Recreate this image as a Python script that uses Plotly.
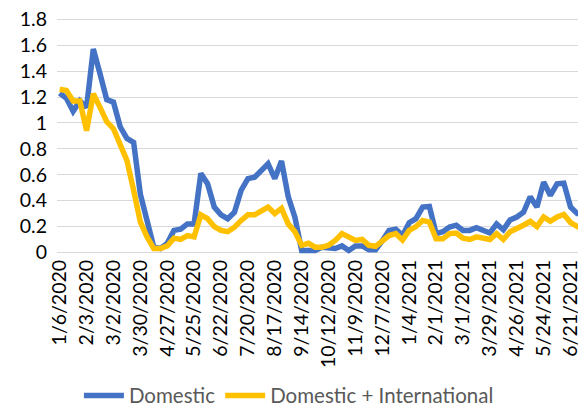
import pandas as pd
import plotly.graph_objects as go

# weekly, starting Monday 1/6/2020
weeks = [d.strftime("%-m/%-d/%Y") for d in pd.date_range("2020-01-06", periods=79, freq="7D")]

domestic = [
    1.23, 1.19, 1.09, 1.17, 1.12, 1.57, 1.38, 1.18, 1.16, 0.97,
    0.88, 0.85, 0.45, 0.26, 0.04, 0.03, 0.07, 0.17, 0.18, 0.22,
    0.22, 0.61, 0.53, 0.35, 0.29, 0.26, 0.31, 0.48, 0.57, 0.58,
    0.63, 0.685, 0.57, 0.705, 0.43, 0.27, 0.015, 0.015, 0.015, 0.04,
    0.04, 0.03, 0.05, 0.015, 0.05, 0.05, 0.02, 0.02, 0.09, 0.17,
    0.18, 0.13, 0.23, 0.26, 0.35, 0.355, 0.145, 0.16, 0.196, 0.21,
    0.17, 0.17, 0.19, 0.17, 0.15, 0.22, 0.175, 0.25, 0.273, 0.31,
    0.43, 0.35, 0.543, 0.44, 0.53, 0.535, 0.35, 0.30, 0.30,
]

dom_intl = [
    1.26, 1.25, 1.17, 1.17, 0.94, 1.225, 1.12, 1.01, 0.955, 0.84,
    0.71, 0.48, 0.235, 0.12, 0.03, 0.03, 0.05, 0.11, 0.10, 0.13,
    0.12, 0.29, 0.26, 0.20, 0.17, 0.16, 0.195, 0.247, 0.29, 0.29,
    0.325, 0.35, 0.30, 0.34, 0.22, 0.16, 0.055, 0.07, 0.04, 0.04,
    0.055, 0.093, 0.145, 0.12, 0.093, 0.10, 0.055, 0.047, 0.093, 0.13,
    0.145, 0.095, 0.17, 0.20, 0.247, 0.235, 0.105, 0.105, 0.145, 0.15,
    0.11, 0.10, 0.12, 0.11, 0.10, 0.145, 0.10, 0.16, 0.18, 0.21,
    0.24, 0.20, 0.273, 0.24, 0.273, 0.293, 0.23, 0.196, 0.17,
]

y_ticks = [0, 0.2, 0.4, 0.6, 0.8, 1, 1.2, 1.4, 1.6, 1.8]
y_labels = ["0", "0.2", "0.4", "0.6", "0.8", "1", "1.2", "1.4", "1.6", "1.8"]

fig = go.Figure()
fig.add_trace(go.Scatter(x=weeks, y=domestic, mode="lines", name="Domestic",
                         line=dict(color="#4472C4", width=5.5)))
fig.add_trace(go.Scatter(x=weeks, y=dom_intl, mode="lines", name="Domestic + International",
                         line=dict(color="#FFC000", width=5.5)))

# page body adds an 8px margin, so the figure is 8px smaller each way
fig.update_layout(
    width=578, height=398,
    margin=dict(l=49, r=0, t=10, b=151, autoexpand=False),
    paper_bgcolor="white", plot_bgcolor="white",
    font=dict(family="Lato", size=19.5, color="#000000"),
    showlegend=True,
    legend=dict(orientation="h", xref="container", yref="container",
                x=0.486, y=0.026, xanchor="center", yanchor="middle",
                font=dict(size=20.5, color="#595959"), itemwidth=40),
)
fig.update_xaxes(type="category", range=[-0.4, 78.3], automargin=False,
                 tickvals=weeks[::4], ticktext=weeks[::4], tickangle=-90,
                 showgrid=False, showline=False, ticks="", zeroline=False)
fig.update_yaxes(range=[-0.02, 1.81], tickvals=y_ticks, ticktext=y_labels, automargin=False,
                 showgrid=True, gridcolor="#d9d9d9", gridwidth=1, ticklabelstandoff=9,
                 ticklabeloverflow="allow", zeroline=False, showline=False, ticks="")

fig.write_html("out.html")
